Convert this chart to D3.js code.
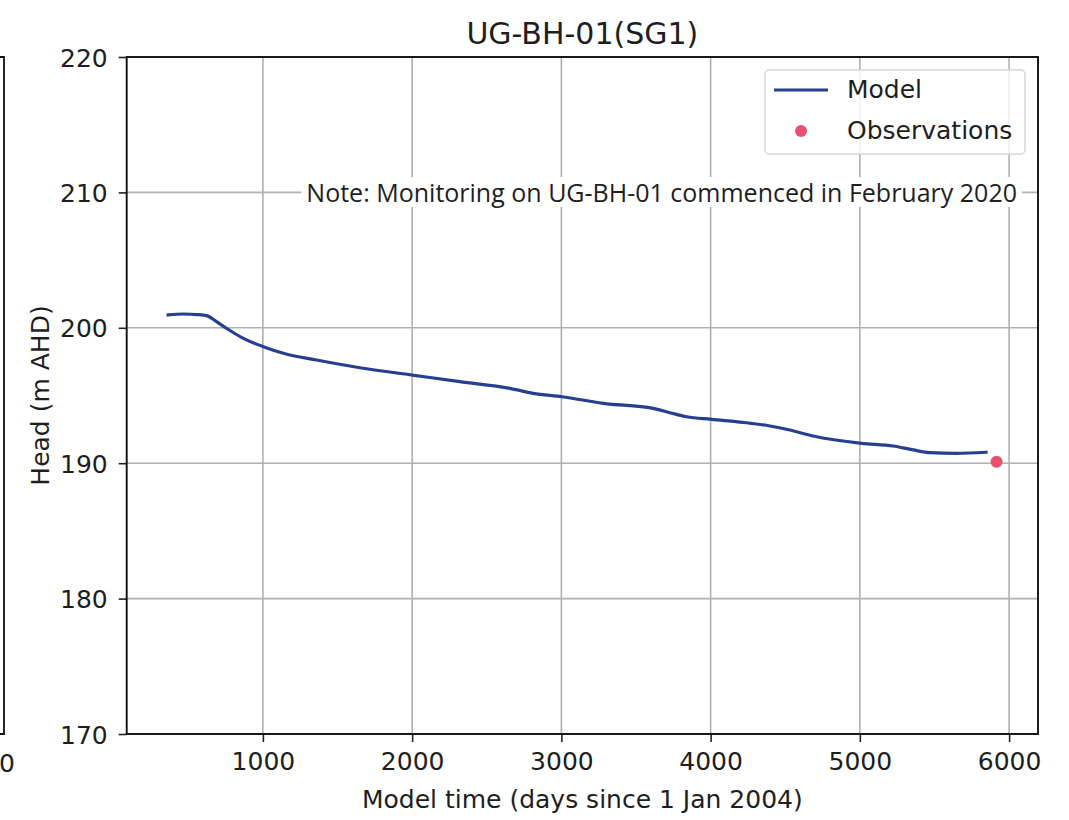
<!DOCTYPE html>
<html>
<head>
<meta charset="utf-8">
<script src="https://cdn.jsdelivr.net/npm/d3@7"></script>
<style>
  html, body { margin: 0; padding: 0; background: #ffffff; }
  svg { display: block; }
</style>
</head>
<body>
<div id="chart"></div>
<script>
// Simulated head at bore UG-BH-01 (days since 1 Jan 2004, m AHD)
const modelDays = [365, 465, 560, 623, 690, 757, 869, 1003, 1137, 1360, 1650, 2000, 2320, 2655, 2811,
  3004, 3280, 3615, 3727, 3839, 4006, 4241, 4397, 4531, 4687, 5011, 5223, 5357, 5469, 5648, 5845];
const modelHead = [200.95, 201.02, 200.98, 200.9, 200.45, 199.96, 199.22, 198.6, 198.12, 197.62, 197.05,
  196.51, 196.02, 195.53, 195.16, 194.91, 194.42, 194.05, 193.73, 193.43, 193.24, 192.99, 192.75, 192.45,
  192.01, 191.47, 191.27, 190.98, 190.78, 190.73, 190.81];

// Measured head
const obsDays = [5916];
const obsHead = [190.11];

const xTicks = [1000, 2000, 3000, 4000, 5000, 6000];
const yTicks = [170, 180, 190, 200, 210, 220];
const yDomain = [170, 220];

const titleText = "UG-BH-01(SG1)";
const xLabel = "Model time (days since 1 Jan 2004)";
const yLabel = "Head (m AHD)";
const noteText = "Note: Monitoring on UG-BH-01 commenced in February 2020";
const legendLabels = ["Model", "Observations"];

const W = 1069, H = 820;
const plot = { left: 126.7, right: 1038, top: 57, bottom: 734 };

const lineColor = "#263f8e";
const obsColor = "#e8506e";
const gridColor = "#b0b0b0";
const textColor = "#1e1e1e";
const mainFont = "'DejaVu Sans', sans-serif";
const fs = 25;

const svg = d3.select("#chart").append("svg")
  .attr("width", W).attr("height", H)
  .attr("viewBox", `0 0 ${W} ${H}`);

// x extent padded by 5% on each side
const allDays = modelDays.concat(obsDays);
const [dMin, dMax] = d3.extent(allDays);
const pad = (dMax - dMin) * 0.05;
const x = d3.scaleLinear().domain([dMin - pad, dMax + pad]).range([plot.left, plot.right]);
const y = d3.scaleLinear().domain(yDomain).range([plot.bottom, plot.top]);

// Edge of the neighbouring panel on the left
svg.append("path")
  .attr("d", `M0,${plot.top} H4 V${plot.bottom} H0`)
  .attr("fill", "none").attr("stroke", "#111").attr("stroke-width", 1.8);
svg.append("text")
  .attr("x", 15).attr("y", 772)
  .attr("text-anchor", "end")
  .attr("font-family", mainFont).attr("font-size", fs)
  .attr("fill", textColor)
  .text("0");

// Grid
const grid = svg.append("g");
grid.selectAll("line.gx").data(xTicks).join("line")
  .attr("x1", d => x(d)).attr("x2", d => x(d))
  .attr("y1", plot.top).attr("y2", plot.bottom)
  .attr("stroke", gridColor).attr("stroke-width", 1.6);
grid.selectAll("line.gy").data(yTicks).join("line")
  .attr("x1", plot.left).attr("x2", plot.right)
  .attr("y1", d => y(d)).attr("y2", d => y(d))
  .attr("stroke", gridColor).attr("stroke-width", 1.6);

// Note with a white backing box
const noteG = svg.append("g");
const note = noteG.append("text")
  .attr("x", 1017).attr("y", 202)
  .attr("text-anchor", "end")
  .attr("font-family", "'Open Sans', Lato, sans-serif")
  .attr("font-size", 25)
  .attr("fill", textColor)
  .text(noteText);
const nb = note.node().getBBox();
noteG.insert("rect", "text")
  .attr("x", nb.x - 5).attr("y", nb.y + 2)
  .attr("width", nb.width + 10).attr("height", nb.height - 4)
  .attr("fill", "#ffffff");

// Model line
const line = d3.line()
  .x((d, i) => x(modelDays[i]))
  .y((d, i) => y(modelHead[i]))
  .curve(d3.curveMonotoneX);
svg.append("path")
  .datum(modelHead)
  .attr("d", line)
  .attr("fill", "none")
  .attr("stroke", lineColor)
  .attr("stroke-width", 3.2)
  .attr("stroke-linecap", "square")
  .attr("stroke-linejoin", "round");

// Observations
svg.selectAll("circle.obs").data(obsHead).join("circle")
  .attr("class", "obs")
  .attr("cx", (d, i) => x(obsDays[i]))
  .attr("cy", d => y(d))
  .attr("r", 6)
  .attr("fill", obsColor);

// Axes
const xAxis = d3.axisBottom(x).tickValues(xTicks).tickSize(8).tickPadding(10).tickFormat(d3.format("d"));
const yAxis = d3.axisLeft(y).tickValues(yTicks).tickSize(8).tickPadding(11).tickFormat(d3.format("d"));

const gx = svg.append("g").attr("transform", `translate(0,${plot.bottom})`).call(xAxis);
const gy = svg.append("g").attr("transform", `translate(${plot.left},0)`).call(yAxis);
[gx, gy].forEach(g => {
  g.select(".domain").remove();
  g.selectAll(".tick line").attr("stroke", "#222").attr("stroke-width", 1.6);
  g.selectAll(".tick text")
    .attr("font-family", mainFont).attr("font-size", fs).attr("fill", textColor);
});
gx.selectAll(".tick text").attr("dy", "0.72em");
gy.selectAll(".tick text").attr("dy", "0.36em");

// Frame
svg.append("rect")
  .attr("x", plot.left).attr("y", plot.top)
  .attr("width", plot.right - plot.left).attr("height", plot.bottom - plot.top)
  .attr("fill", "none").attr("stroke", "#111").attr("stroke-width", 1.9);

// Legend
const lg = svg.append("g");
lg.append("rect")
  .attr("x", 765).attr("y", 70).attr("width", 260).attr("height", 84).attr("rx", 4)
  .attr("fill", "#ffffff").attr("fill-opacity", 0.8)
  .attr("stroke", "#d6d6d6").attr("stroke-width", 1.5);
lg.append("line")
  .attr("x1", 774).attr("x2", 828).attr("y1", 90).attr("y2", 90)
  .attr("stroke", lineColor).attr("stroke-width", 3);
lg.append("circle")
  .attr("cx", 801).attr("cy", 131).attr("r", 6).attr("fill", obsColor);
lg.selectAll("text").data(legendLabels).join("text")
  .attr("x", 847).attr("y", (d, i) => 98 + i * 41)
  .attr("font-family", mainFont).attr("font-size", fs).attr("fill", textColor)
  .text(d => d);

// Title and axis labels
svg.append("text")
  .attr("x", (plot.left + plot.right) / 2).attr("y", 44)
  .attr("text-anchor", "middle")
  .attr("font-family", mainFont).attr("font-size", 30)
  .attr("fill", textColor)
  .text(titleText);

svg.append("text")
  .attr("x", (plot.left + plot.right) / 2).attr("y", 808)
  .attr("text-anchor", "middle")
  .attr("font-family", mainFont).attr("font-size", fs)
  .attr("fill", textColor)
  .text(xLabel);

svg.append("text")
  .attr("transform", `translate(49,${(plot.top + plot.bottom) / 2}) rotate(-90)`)
  .attr("text-anchor", "middle")
  .attr("font-family", mainFont).attr("font-size", fs)
  .attr("fill", textColor)
  .text(yLabel);
</script>
</body>
</html>
